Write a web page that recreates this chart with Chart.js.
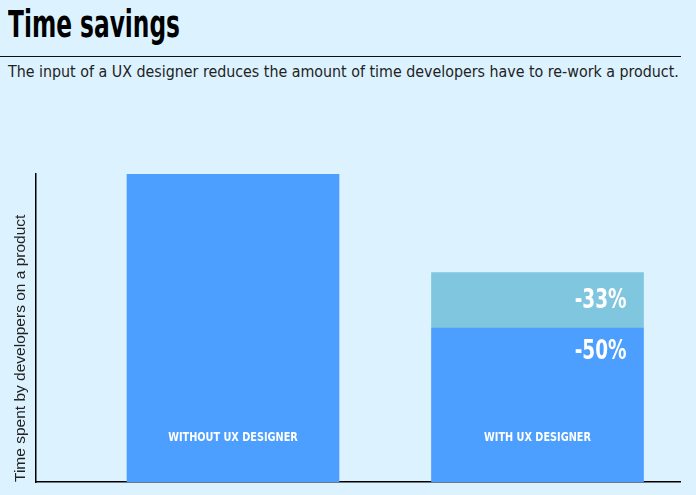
<!DOCTYPE html>
<html>
<head>
<meta charset="utf-8">
<script src="https://cdn.jsdelivr.net/npm/chart.js@4"></script>
<style>
  html, body { margin: 0; padding: 0; background: #dcf2ff; }
  body { width: 696px; height: 495px; position: relative; overflow: hidden; }
  #title {
    position: absolute; left: 8px; top: 3px; margin: 0;
    font-family: "DejaVu Sans Condensed", sans-serif;
    font-weight: bold; font-size: 37px; color: #000;
    transform-origin: left top; transform: scaleX(0.7);
  }
  #rule { position: absolute; left: 0; top: 56px; width: 681px; height: 0; border-top: 1.5px solid #111; }
  #subtitle {
    position: absolute; left: 8px; top: 62px; margin: 0; white-space: nowrap;
    font-family: "DejaVu Sans Condensed", sans-serif;
    font-size: 16px; color: #222;
    transform-origin: left top; transform: scaleX(0.99);
  }
  #wrap { position: absolute; left: 0; top: 0; width: 696px; height: 495px; }
</style>
</head>
<body>
<h1 id="title">Time savings</h1>
<div id="rule"></div>
<p id="subtitle">The input of a UX designer reduces the amount of time developers have to re-work a product.</p>
<div id="wrap"><canvas id="chart"></canvas></div>
<script>
// data
const categories = ['WITHOUT UX DESIGNER', 'WITH UX DESIGNER'];
const baseTime = [100, 50];     // time still spent
const reworkTime = [0, 18];     // extra time when no designer help
const baseLabels = ['', '-50%'];
const reworkLabels = ['', '-33%'];

const blue = '#4d9fff';
const lightBlue = '#80c6df';
const narrowFont = '"DejaVu Sans Condensed", sans-serif';

// write text squeezed horizontally (the original uses a condensed face)
function squeezeText(ctx, text, x, y, sx) {
  ctx.save();
  ctx.translate(x, y);
  ctx.scale(sx, 1);
  ctx.fillText(text, 0, 0);
  ctx.restore();
}

// labels written inside the bars
const barText = {
  id: 'barText',
  afterDatasetsDraw(chart) {
    const ctx = chart.ctx;
    const base = chart.getDatasetMeta(0).data;
    const extra = chart.getDatasetMeta(1).data;
    ctx.save();
    ctx.fillStyle = '#fff';
    ctx.textBaseline = 'middle';

    ctx.font = 'bold 12px ' + narrowFont;
    ctx.textAlign = 'center';
    base.forEach((bar, i) => squeezeText(ctx, categories[i], bar.x, bar.base - 44, 0.9));

    ctx.font = 'bold 27px ' + narrowFont;
    ctx.textAlign = 'right';
    base.forEach((bar, i) => {
      if (baseLabels[i]) squeezeText(ctx, baseLabels[i], bar.x + bar.width / 2 - 17, bar.y + 24, 0.76);
    });
    extra.forEach((bar, i) => {
      if (reworkLabels[i]) squeezeText(ctx, reworkLabels[i], bar.x + bar.width / 2 - 17, (bar.y + bar.base) / 2 + 1, 0.76);
    });
    ctx.restore();
  }
};

new Chart(document.getElementById('chart'), {
  type: 'bar',
  data: {
    datasets: [
      {
        label: 'Time',
        data: baseTime.map((v, i) => ({ x: i, y: v })),
        backgroundColor: blue,
        barThickness: 212
      },
      {
        label: 'Re-work',
        data: reworkTime.map((v, i) => ({ x: i, y: v })),
        backgroundColor: lightBlue,
        barThickness: 212
      }
    ]
  },
  options: {
    responsive: true,
    maintainAspectRatio: false,
    animation: false,
    layout: { padding: { top: 174, bottom: 13, left: 0, right: 16 } },
    plugins: {
      legend: { display: false },
      tooltip: { enabled: false }
    },
    scales: {
      x: {
        type: 'linear',
        stacked: true,
        offset: false,
        min: -0.647,
        max: 1.468,
        grid: { display: false },
        ticks: { display: false },
        border: { display: true, color: '#000', width: 1.5 },
        afterFit(scale) { scale.height = 0; }
      },
      y: {
        stacked: true,
        min: 0,
        max: 100,
        grid: { display: false },
        ticks: { display: false },
        border: { display: true, color: '#000', width: 1.5 },
        title: {
          display: true,
          text: 'Time spent by developers on a product',
          align: 'start',
          color: '#222',
          font: { family: '"Liberation Sans", Arial, sans-serif', size: 15.5 },
          padding: { top: 11, bottom: 6 }
        },
        afterFit(scale) { scale.width = 36; }
      }
    }
  },
  plugins: [barText]
});
</script>
</body>
</html>
